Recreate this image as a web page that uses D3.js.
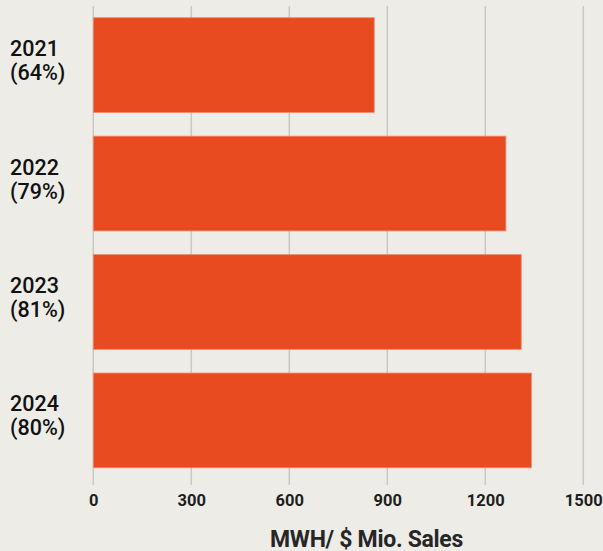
<!DOCTYPE html>
<html>
<head>
<meta charset="utf-8">
<script src="https://cdn.jsdelivr.net/npm/d3@7"></script>
<style>
  html, body { margin: 0; padding: 0; background: #EDECE7; }
  svg { display: block; }
</style>
</head>
<body>
<script>
// Energy intensity per year (MWh per $ million of sales)
const years = ["2021", "2022", "2023", "2024"];
const shares = ["(64%)", "(79%)", "(81%)", "(80%)"];
const values = [860, 1263, 1310, 1341];
const tickValues = [0, 300, 600, 900, 1200, 1500];
const axisTitle = "MWH/ $ Mio. Sales";

const W = 603, H = 551;
const svg = d3.select("body").append("svg")
  .attr("width", W).attr("height", H);

svg.append("rect").attr("width", W).attr("height", H).attr("fill", "#EDECE7");

const x = d3.scaleLinear().domain([0, 1500]).range([93.3, 583.3]);
const y = d3.scaleBand().domain(years).range([17.7, 467.8])
  .paddingInner(0.2).paddingOuter(0);

// vertical gridlines
svg.append("g")
  .selectAll("line")
  .data(tickValues)
  .join("line")
  .attr("x1", d => x(d)).attr("x2", d => x(d))
  .attr("y1", 6).attr("y2", 485)
  .attr("stroke", "#C9C8C4")
  .attr("stroke-width", 1.5);

// bars
svg.append("g")
  .selectAll("rect")
  .data(years)
  .join("rect")
  .attr("x", x(0))
  .attr("y", d => y(d))
  .attr("width", (d, i) => x(values[i]) - x(0))
  .attr("height", y.bandwidth())
  .attr("fill", "#E84B1F")
  .attr("stroke", "#F08A6C")
  .attr("stroke-width", 0.8);

// x axis tick labels
const xAxis = d3.axisBottom(x).tickValues(tickValues)
  .tickFormat(d3.format("d")).tickSize(0).tickPadding(0);
const gx = svg.append("g").attr("transform", "translate(0,506)").call(xAxis);
gx.select(".domain").remove();
gx.selectAll("text")
  .attr("y", 0)
  .attr("dy", 0)
  .attr("font-family", "Roboto, sans-serif")
  .attr("font-weight", 700)
  .attr("font-size", 16.5)
  .attr("fill", "#1E1E1E");

// category labels: year and share on two lines
const lab = svg.append("g")
  .selectAll("text")
  .data(years)
  .join("text")
  .attr("font-family", "Roboto, sans-serif")
  .attr("font-weight", 500)
  .attr("font-size", 21.5)
  .attr("fill", "#111");
lab.append("tspan")
  .attr("x", 10)
  .attr("y", d => y(d) + y.bandwidth() / 2 - 9)
  .text(d => d);
lab.append("tspan")
  .attr("x", 10)
  .attr("y", d => y(d) + y.bandwidth() / 2 + 15)
  .text((d, i) => shares[i]);

// axis title
svg.append("text")
  .attr("x", 366.5)
  .attr("y", 546.5)
  .attr("text-anchor", "middle")
  .attr("font-family", "Roboto, sans-serif")
  .attr("font-weight", 700)
  .attr("font-size", 23)
  .attr("letter-spacing", -0.3)
  .attr("fill", "#262626")
  .text(axisTitle);
</script>
</body>
</html>
